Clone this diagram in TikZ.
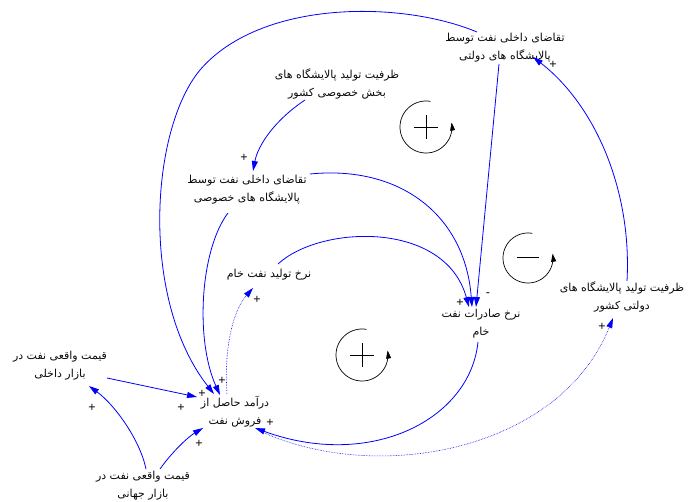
\documentclass[tikz,border=0pt]{standalone}
\usepackage{fontspec}
\setmainfont{Liberation Sans}
\newfontfamily\fa[Script=Arabic]{DejaVu Sans}
\TeXXeTstate=1
\usetikzlibrary{arrows.meta}
\definecolor{lnk}{RGB}{0,0,255}
\definecolor{txt}{RGB}{10,10,10}
\begin{document}
\begin{tikzpicture}[x=1pt,y=-1pt,
  lbl/.style={font=\fa\fontsize{11}{18}\selectfont, align=center, inner sep=0pt, text=txt},
  sgn/.style={font=\fontsize{12.5}{13}\selectfont, inner sep=0pt, text=txt},
  link/.style={draw=lnk, line width=0.8pt, -{Triangle[length=10pt,width=6pt]}},
  dlink/.style={draw=lnk, line width=0.6pt, densely dotted, -{Triangle[length=10pt,width=6pt]}},
  loopar/.style={draw=black, line width=0.7pt, -{Triangle[length=8pt,width=5pt]}},
  loopsym/.style={draw=black, line width=0.8pt}]
\useasboundingbox (0,0) rectangle (688,502);

\node[lbl] (A) at (505,48) {\beginR تقاضای داخلی نفت توسط\endR\\\beginR پالایشگاه های دولتی\endR};
\node[lbl] (B) at (337,84) {\beginR ظرفیت تولید پالایشگاه های\endR\\\beginR بخش خصوصی کشور\endR};
\node[lbl] (C) at (247,190) {\beginR تقاضای داخلی نفت توسط\endR\\\beginR پالایشگاه های خصوصی\endR};
\node[lbl] (D) at (269,275) {\beginR نرخ تولید نفت خام\endR};
\node[lbl] (E) at (481,324) {\beginR نرخ صادرات نفت\endR\\\beginR خام\endR};
\node[lbl] (F) at (622,297) {\beginR ظرفیت تولید پالایشگاه های\endR\\\beginR دولتی کشور\endR};
\node[lbl] (G) at (60,366) {\beginR قیمت واقعی نفت در\endR\\\beginR بازار داخلی\endR};
\node[lbl] (H) at (235,412) {\beginR درآمد حاصل از\endR\\\beginR فروش نفت\endR};
\node[lbl] (I) at (143,486) {\beginR قیمت واقعی نفت در\endR\\\beginR بازار جهانی\endR};

% connectors
\draw[link] ([shift={(-28,-16)}]A.center) .. controls (400,0) and (260,0) .. (200,70)
  .. controls (150,130) and (140,300) .. ([shift={(-21,-18)}]H.center);
\draw[link] ([shift={(-19,23)}]C.center) .. controls (200,250) and (195,340) .. ([shift={(-15,-17)}]H.center);
\draw[dlink] ([shift={(-8,-18)}]H.center) .. controls (224,350) and (232,312) .. ([shift={(-16,13)}]D.center);
\draw[link] ([shift={(47,12)}]G.center) -- ([shift={(-38,-15)}]H.center);
\draw[link] ([shift={(3,-17)}]I.center) .. controls (140,440) and (115,405) .. ([shift={(29,20)}]G.center);
\draw[link] ([shift={(17,-17)}]I.center) .. controls (172,452) and (188,437) .. ([shift={(-32,16)}]H.center);
\draw[link] ([shift={(-3,18)}]E.center) .. controls (470,420) and (370,470) .. ([shift={(20,16)}]H.center);
\draw[dlink] ([shift={(27,20)}]H.center) .. controls (380,485) and (560,450) .. ([shift={(-9,21)}]F.center);
\draw[link] ([shift={(5,-16)}]F.center) .. controls (632,190) and (595,105) .. ([shift={(28,9)}]A.center);
\draw[link] ([shift={(-6,16)}]A.center) -- ([shift={(-5,-17)}]E.center);
\draw[link] ([shift={(63,-16)}]C.center) .. controls (400,165) and (465,215) .. ([shift={(-9,-17)}]E.center);
\draw[link] ([shift={(9,-11)}]D.center) .. controls (320,225) and (445,220) .. ([shift={(-12,-17)}]E.center);
\draw[link] ([shift={(-32,16)}]B.center) .. controls (275,120) and (258,145) .. ([shift={(6,-19)}]C.center);

% polarity signs
\node[sgn] (s1) at (244,158) {+};
\node[sgn] (s2) at (460,303) {+};
\node[sgn] (s3) at (488,295) {-};
\node[sgn] (s4) at (222,381) {+};
\node[sgn] (s5) at (202,394) {+};
\node[sgn] (s6) at (181,408) {+};
\node[sgn] (s7) at (199,444) {+};
\node[sgn] (s8) at (270,423) {+};
\node[sgn] (s9) at (92,408) {+};
\node[sgn] (s10) at (257,300) {+};
\node[sgn] (s11) at (602,327) {+};
\node[sgn] (s12) at (553,65) {+};

% loop symbols
\draw[loopar] plot[domain=0:290, samples=60] ({426+26*cos(280-\x)},{127+26*sin(280-\x)});
\draw[loopsym] (414,127) -- (438,127) (426,115) -- (426,139);
\draw[loopar] plot[domain=0:290, samples=60] ({528+25*cos(280-\x)},{258+25*sin(280-\x)});
\draw[loopsym] (517,257) -- (539,257);
\draw[loopar] plot[domain=0:290, samples=60] ({362+26*cos(280-\x)},{355+26*sin(280-\x)});
\draw[loopsym] (350,355) -- (374,355) (362,343) -- (362,367);
\end{tikzpicture}
\end{document}
